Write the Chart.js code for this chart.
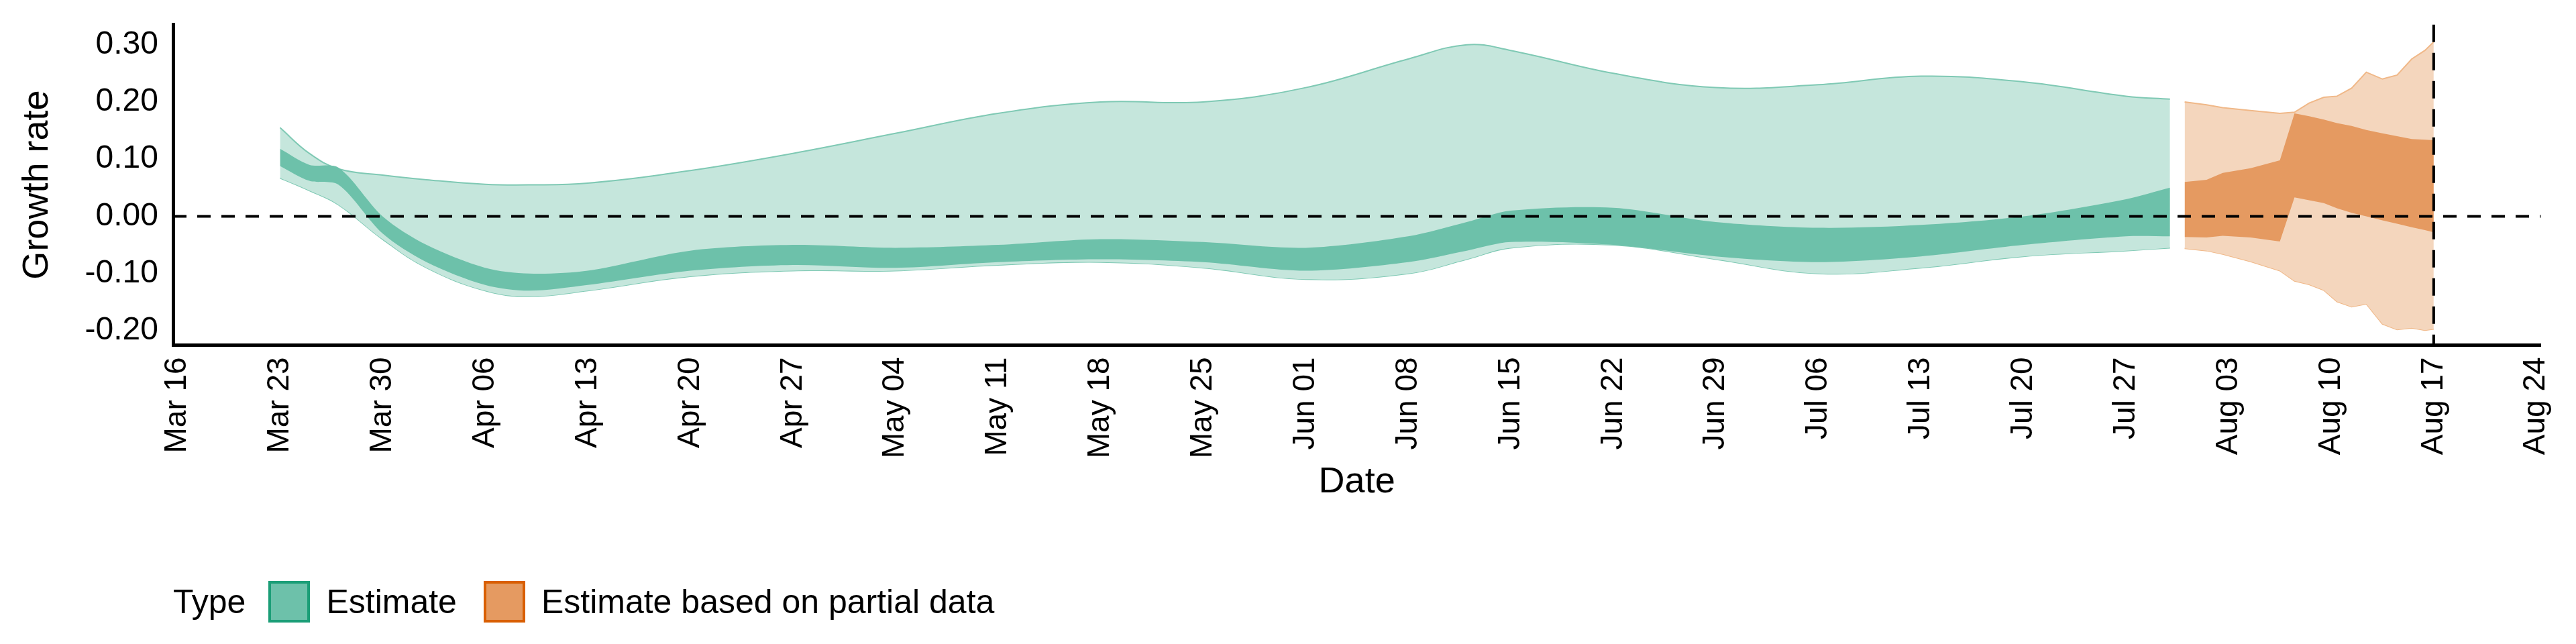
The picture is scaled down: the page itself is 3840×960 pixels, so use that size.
<!DOCTYPE html>
<html lang="en">
<head>
<meta charset="UTF-8" />
<title>Growth rate</title>
<script src="https://cdn.jsdelivr.net/npm/chart.js"></script>
<style>
  body { margin: 0; background: #fff; font-family: "Liberation Sans", Arial, sans-serif; }
  #wrap { position: relative; width: 3840px; height: 960px; }
  #chart { position: absolute; left: 0; top: 0; }
  #legend { position: absolute; left: 258px; top: 866px; display: flex; align-items: center; font-size: 50px; color: #000; }
  .box { width: 62px; height: 62px; box-sizing: border-box; border: 4px solid; margin: 0 24px 0 34px; }
</style>
</head>
<body>
<div id="wrap">
  <canvas id="chart" width="3840" height="752"></canvas>
  <div id="legend">
    <span>Type</span>
    <div class="box" style="background:#6dc1aa;border-color:#1b9e77"></div><span>Estimate</span>
    <div class="box" style="background:#e59a61;border-color:#d95f02;margin-left:40px"></div><span>Estimate based on partial data</span>
  </div>
</div>
<script>
// x values are days since Mar 16
const tickLabels = ['Mar 16','Mar 23','Mar 30','Apr 06','Apr 13','Apr 20','Apr 27','May 04','May 11','May 18','May 25','Jun 01','Jun 08','Jun 15','Jun 22','Jun 29','Jul 06','Jul 13','Jul 20','Jul 27','Aug 03','Aug 10','Aug 17','Aug 24'];

const estDays   = [7, 9, 11, 14, 17, 21, 24, 28, 35, 42, 49, 56, 63, 70, 77, 84, 88, 91, 98, 105, 112, 119, 126, 133, 136];
const estOuterHi = [0.155, 0.11, 0.083, 0.072, 0.064, 0.056, 0.055, 0.058, 0.08, 0.11, 0.145, 0.18, 0.2, 0.2, 0.225, 0.275, 0.3, 0.29, 0.25, 0.225, 0.23, 0.245, 0.235, 0.21, 0.205];
const estInnerHi = [0.118, 0.09, 0.085, 0.0, -0.05, -0.09, -0.1, -0.095, -0.06, -0.05, -0.055, -0.05, -0.04, -0.045, -0.055, -0.035, -0.01, 0.01, 0.015, -0.01, -0.02, -0.015, 0.0, 0.03, 0.05];
const estInnerLo = [0.088, 0.062, 0.055, -0.03, -0.08, -0.12, -0.13, -0.12, -0.095, -0.085, -0.09, -0.08, -0.075, -0.08, -0.095, -0.08, -0.06, -0.045, -0.05, -0.07, -0.08, -0.07, -0.05, -0.035, -0.035];
const estOuterLo = [0.067, 0.045, 0.02, -0.04, -0.09, -0.13, -0.14, -0.13, -0.105, -0.095, -0.095, -0.085, -0.08, -0.09, -0.11, -0.1, -0.075, -0.055, -0.05, -0.075, -0.1, -0.09, -0.07, -0.06, -0.055];

const partDays    = [137, 138.5, 139.6, 141.5, 143.5, 144.5, 145.5, 146.5, 147.4, 148.4, 149.4, 150.5, 151.5, 152.5, 153.4, 154];
const partOuterHi = [0.2, 0.195, 0.19, 0.185, 0.18, 0.182, 0.198, 0.208, 0.21, 0.224, 0.252, 0.24, 0.247, 0.275, 0.29, 0.305];
const partInnerHi = [0.06, 0.064, 0.076, 0.084, 0.098, 0.18, 0.175, 0.169, 0.163, 0.158, 0.151, 0.145, 0.14, 0.135, 0.134, 0.133];
const partInnerLo = [-0.036, -0.037, -0.034, -0.037, -0.044, 0.033, 0.028, 0.023, 0.014, 0.006, 0.0, -0.007, -0.013, -0.019, -0.024, -0.028];
const partOuterLo = [-0.056, -0.06, -0.066, -0.079, -0.095, -0.113, -0.119, -0.129, -0.149, -0.158, -0.153, -0.188, -0.198, -0.195, -0.199, -0.197];

const pts = (xs, ys) => xs.map((x, i) => ({ x, y: ys[i] }));
// lower "order" is drawn on top
const band = (xs, ys, fill, bg, border, tension, order) => ({
  data: pts(xs, ys), fill, backgroundColor: bg, borderColor: border || 'rgba(0,0,0,0)',
  borderWidth: border ? 2 : 0, pointRadius: 0, tension, order
});

const refLines = {
  id: 'refLines',
  afterDatasetsDraw(chart) {
    const { ctx, chartArea: a, scales: { x, y } } = chart;
    ctx.save();
    ctx.strokeStyle = '#000';
    ctx.lineWidth = 4;
    ctx.setLineDash([20, 16]);
    const y0 = y.getPixelForValue(0);
    ctx.beginPath(); ctx.moveTo(a.left, y0); ctx.lineTo(a.right, y0); ctx.stroke();
    const xv = x.getPixelForValue(154);
    ctx.setLineDash([26, 16]);
    ctx.beginPath(); ctx.moveTo(xv, a.top); ctx.lineTo(xv, a.bottom); ctx.stroke();
    ctx.restore();
  }
};

new Chart(document.getElementById('chart'), {
  type: 'line',
  data: {
    datasets: [
      band(estDays, estInnerHi, '+1', '#6dc1aa', null, 0.3, 1),
      band(estDays, estInnerLo, false, '#6dc1aa', null, 0.3, 1),
      band(estDays, estOuterHi, '+1', '#c5e6dc', '#7fc9b4', 0.4, 2),
      band(estDays, estOuterLo, false, '#c5e6dc', '#7fc9b4', 0.4, 2),
      band(partDays, partInnerHi, '+1', '#e59a61', null, 0, 1),
      band(partDays, partInnerLo, false, '#e59a61', null, 0, 1),
      band(partDays, partOuterHi, '+1', '#f4d6bd', '#f0b888', 0, 2),
      band(partDays, partOuterLo, false, '#f4d6bd', '#f0b888', 0, 2)
    ]
  },
  options: {
    responsive: false,
    animation: false,
    layout: { padding: { top: 28, right: 30, left: 0 } },
    plugins: { legend: { display: false }, tooltip: { enabled: false } },
    scales: {
      x: {
        type: 'linear', min: -0.3, max: 161.3,
        afterBuildTicks: s => { s.ticks = tickLabels.map((_, i) => ({ value: i * 7 })); },
        ticks: {
          callback: v => tickLabels[v / 7], autoSkip: false,
          maxRotation: 90, minRotation: 90, color: '#000',
          font: { size: 46, family: 'Liberation Sans' }, padding: 4
        },
        grid: { display: false, drawTicks: true, tickLength: 14, tickColor: '#000', tickWidth: 4 },
        border: { color: '#000', width: 5 },
        title: { display: true, text: 'Date', color: '#000', font: { size: 54, family: 'Liberation Sans' }, padding: { top: 0, bottom: 0 } }
      },
      y: {
        min: -0.225, max: 0.335,
        afterBuildTicks: s => { s.ticks = [-0.2, -0.1, 0, 0.1, 0.2, 0.3].map(v => ({ value: v })); },
        afterFit: s => { s.width = 258; },
        ticks: { callback: v => v.toFixed(2), color: '#000', font: { size: 48, family: 'Liberation Sans' }, padding: 8 },
        grid: { display: false, drawTicks: true, tickLength: 14, tickColor: '#000', tickWidth: 4 },
        border: { color: '#000', width: 5 },
        title: { display: true, text: 'Growth rate', color: '#000', font: { size: 54, family: 'Liberation Sans' }, padding: { top: 24, bottom: 4 } }
      }
    }
  },
  plugins: [refLines]
});
</script>
</body>
</html>
